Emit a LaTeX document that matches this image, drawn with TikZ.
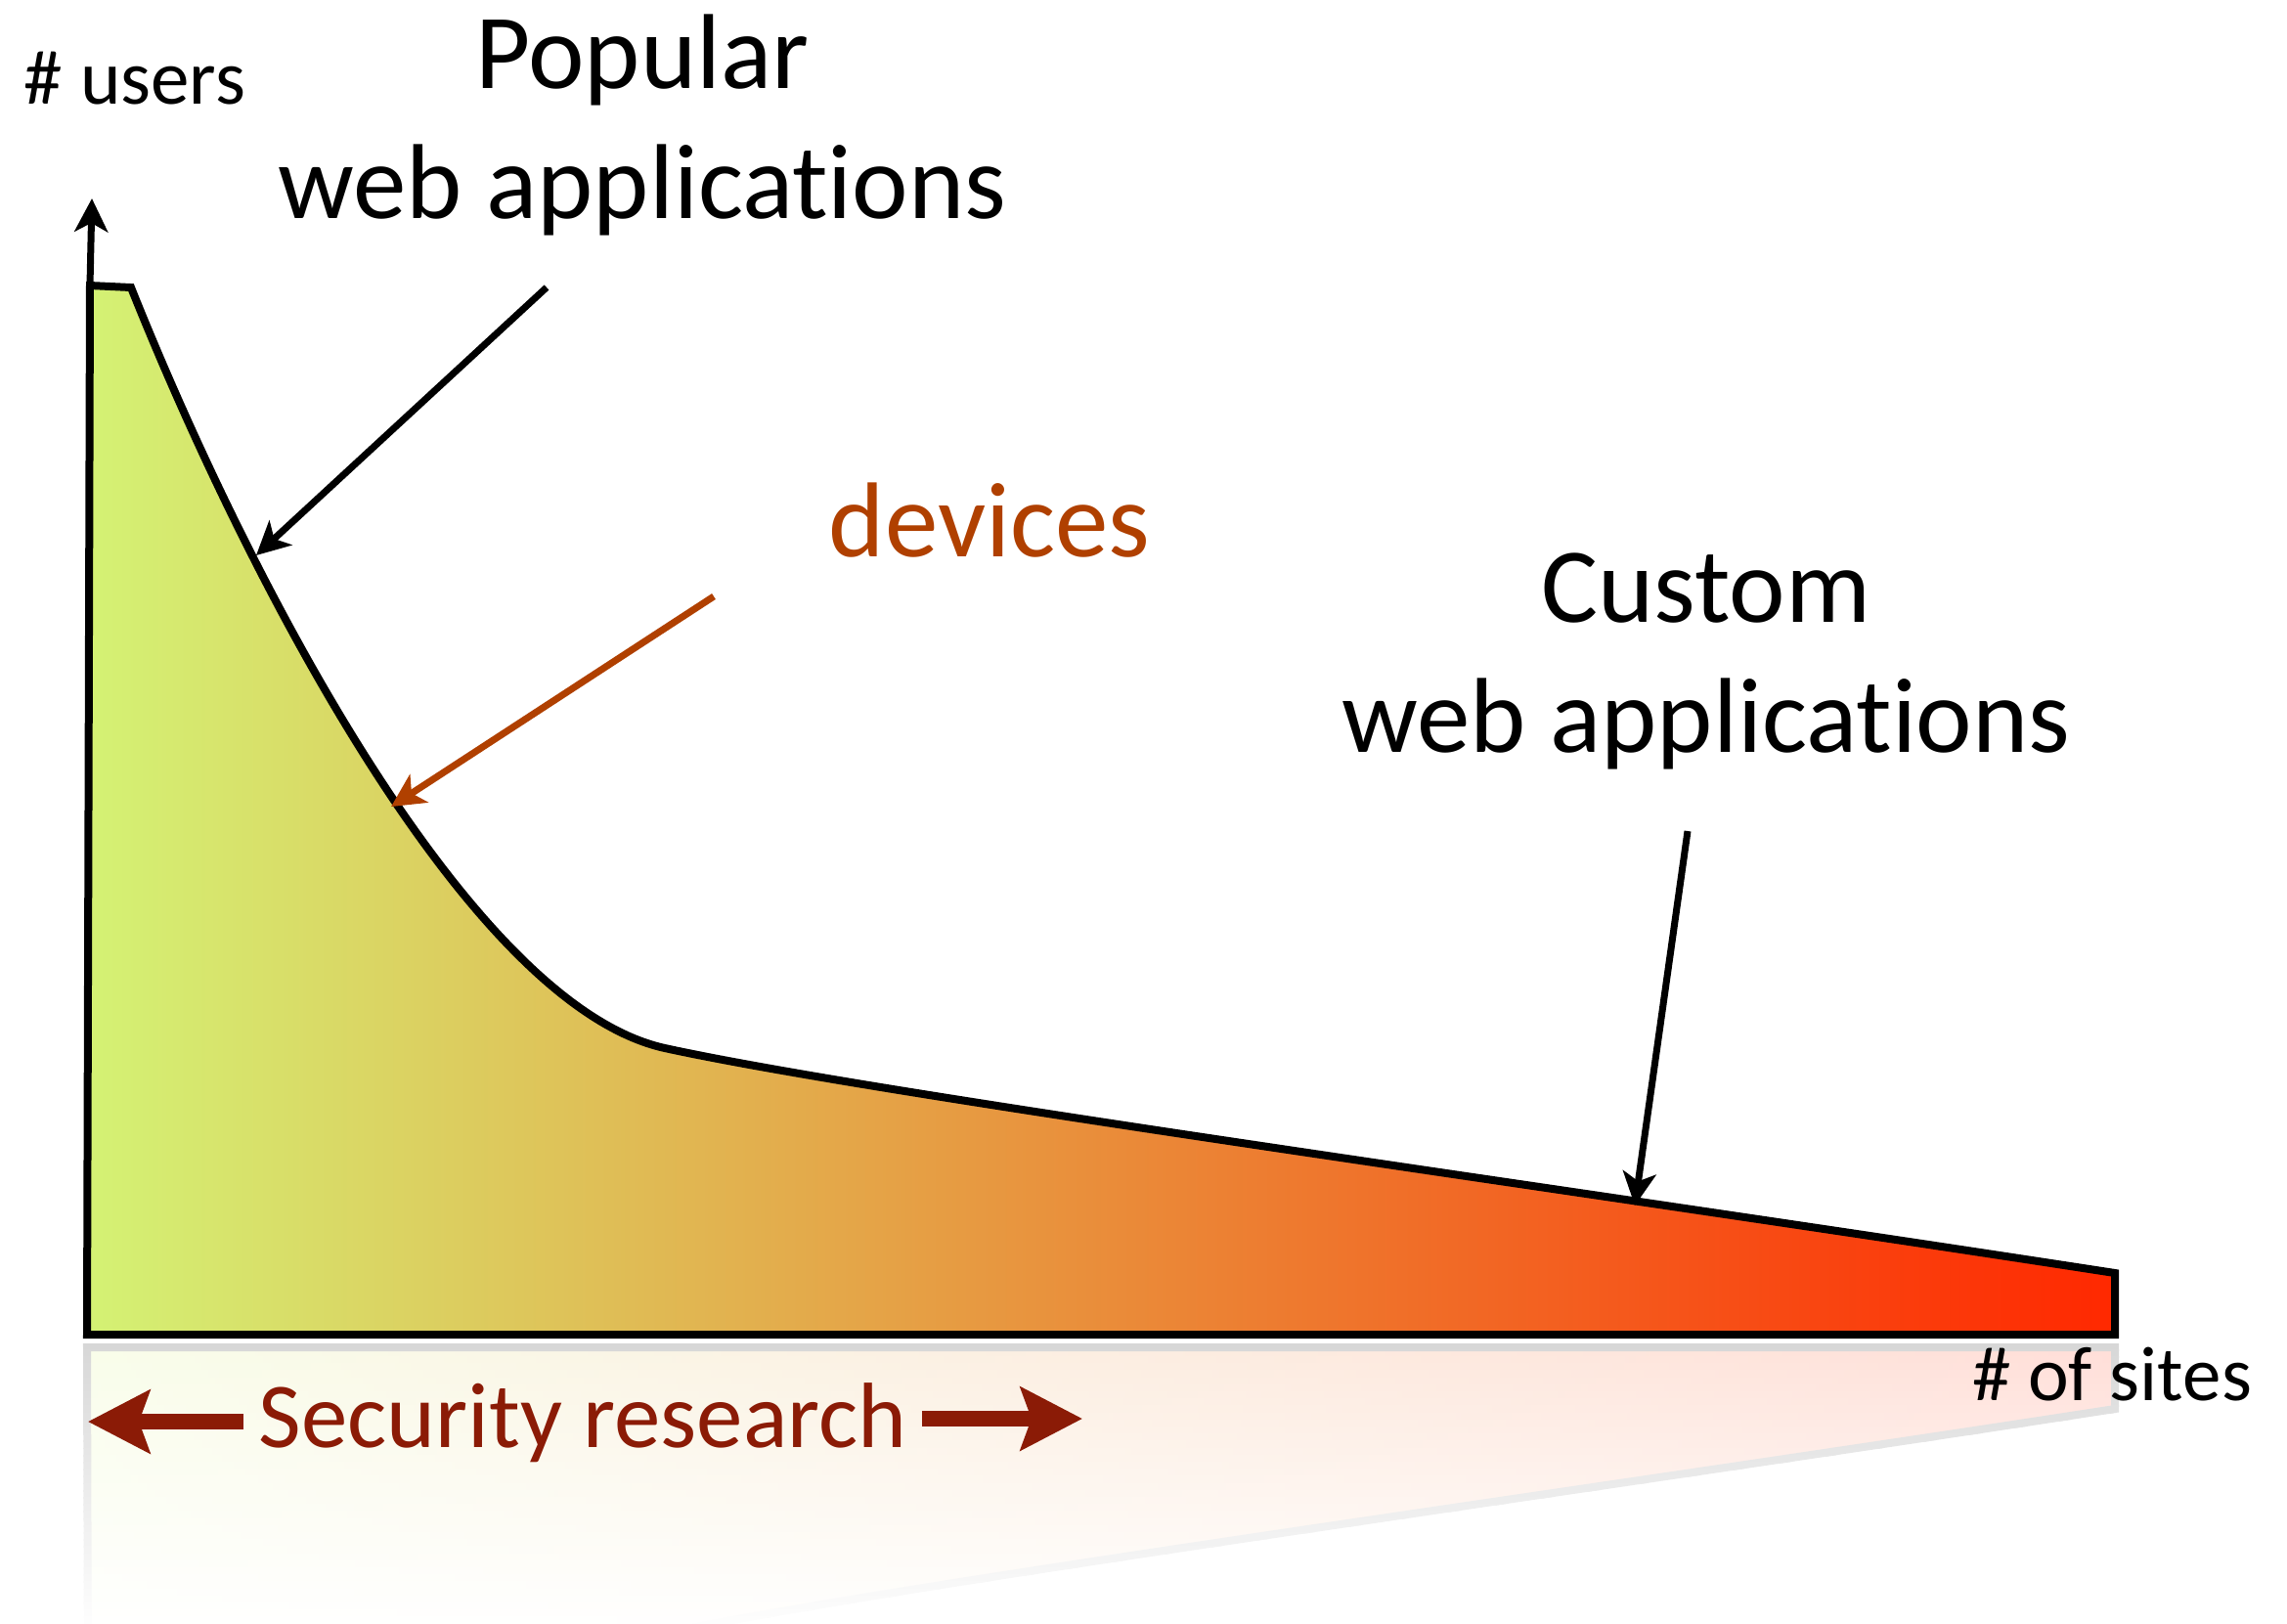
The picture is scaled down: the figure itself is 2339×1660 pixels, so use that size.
\documentclass[tikz,border=0pt]{standalone}
\usepackage{fontspec}
\setmainfont{Carlito}[Ligatures=NoCommon]
\usetikzlibrary{arrows.meta}
\definecolor{tailgreen}{RGB}{212,242,116}
\definecolor{tailorange}{RGB}{237,150,67}
\definecolor{tailred}{RGB}{255,40,0}
\definecolor{devicecolor}{RGB}{176,64,0}
\definecolor{researchcolor}{RGB}{139,27,6}
% outline of the long tail, in pixel units
\newcommand{\tailoutline}{(89,1365) -- (92,292) -- (134,294)
    .. controls (254,594) and (480,1028) .. (680,1072)
    .. controls (900,1120) and (1600,1215) .. (2163,1302) -- (2163,1365) -- cycle}
\tikzstyle{longtail}=[line width=0.8mm, line join=miter]
\tikzstyle{biglabel}=[font=\fontsize{31}{37.7}\selectfont, align=center, inner sep=0, anchor=base]
\tikzstyle{axislabel}=[font=\fontsize{22.5}{27}\selectfont, inner sep=0, anchor=base]
\tikzstyle{pointer}=[line width=0.7mm, -{Stealth[length=3.4mm, width=3.4mm, inset=0.9mm]}]
\tikzstyle{rangearrow}=[researchcolor, line width=1.6mm, -{Stealth[length=6.3mm, width=6.4mm, inset=1.1mm]}]
\begin{document}
\begin{tikzpicture}[x=0.1mm, y=-0.1mm]
    \useasboundingbox (0,0) rectangle (2339,1660);
    % reflection below the axis, fading out
    \foreach \i in {0,...,39}{
        \pgfmathsetmacro{\ya}{1373+7.2*\i}
        \pgfmathsetmacro{\yb}{\ya+8}
        \pgfmathsetmacro{\op}{15.5*(1-\i/41)}
        \begin{scope}
            \clip (0,\ya) rectangle (2339,\yb);
            \begin{scope}[shift={(0,2743)}, yscale=-1]
                \shade[longtail, left color=tailgreen!\op!white, middle color=tailorange!\op!white,
                       right color=tailred!\op!white, draw=black!\op!white] \tailoutline;
            \end{scope}
        \end{scope}
    }
    \shade[longtail, left color=tailgreen, middle color=tailorange, right color=tailred, draw=black] \tailoutline;
    \coordinate (ytop) at (92,292);
    \coordinate (ytip) at (94,203);
    \coordinate (popfrom) at (559,294);
    \coordinate (popto) at (262,568);
    \coordinate (devfrom) at (730,610);
    \coordinate (devto) at (400,825);
    \coordinate (custfrom) at (1726,850);
    \coordinate (custto) at (1672,1233);
    \coordinate (resleft) at (90,1454);
    \coordinate (resright) at (1107,1451);
    \draw[pointer] (ytop) -- (ytip);
    \node[axislabel] (users) at (138,106) {\# users};
    \node[axislabel] (sites) at (2160,1432) {\# of sites};
    % base of a two-line label is its last line
    \node[biglabel] (popular) at (657,223) {Popular\\web applications};
    \node[biglabel] (custom) at (1745,769) {Custom\\web applications};
    \node[biglabel, devicecolor] (devices) at (1012,569) {devices};
    \node[biglabel, researchcolor, font=\fontsize{27}{32}\selectfont, inner xsep=1.5mm] (research) at (596,1480) {Security research};
    \draw[pointer] (popfrom) -- (popto);
    \draw[pointer, devicecolor] (devfrom) -- (devto);
    \draw[pointer] (custfrom) -- (custto);
    \draw[rangearrow] (research.west |- resleft) -- (resleft);
    \draw[rangearrow] (research.east |- resright) -- (resright);
\end{tikzpicture}
\end{document}
